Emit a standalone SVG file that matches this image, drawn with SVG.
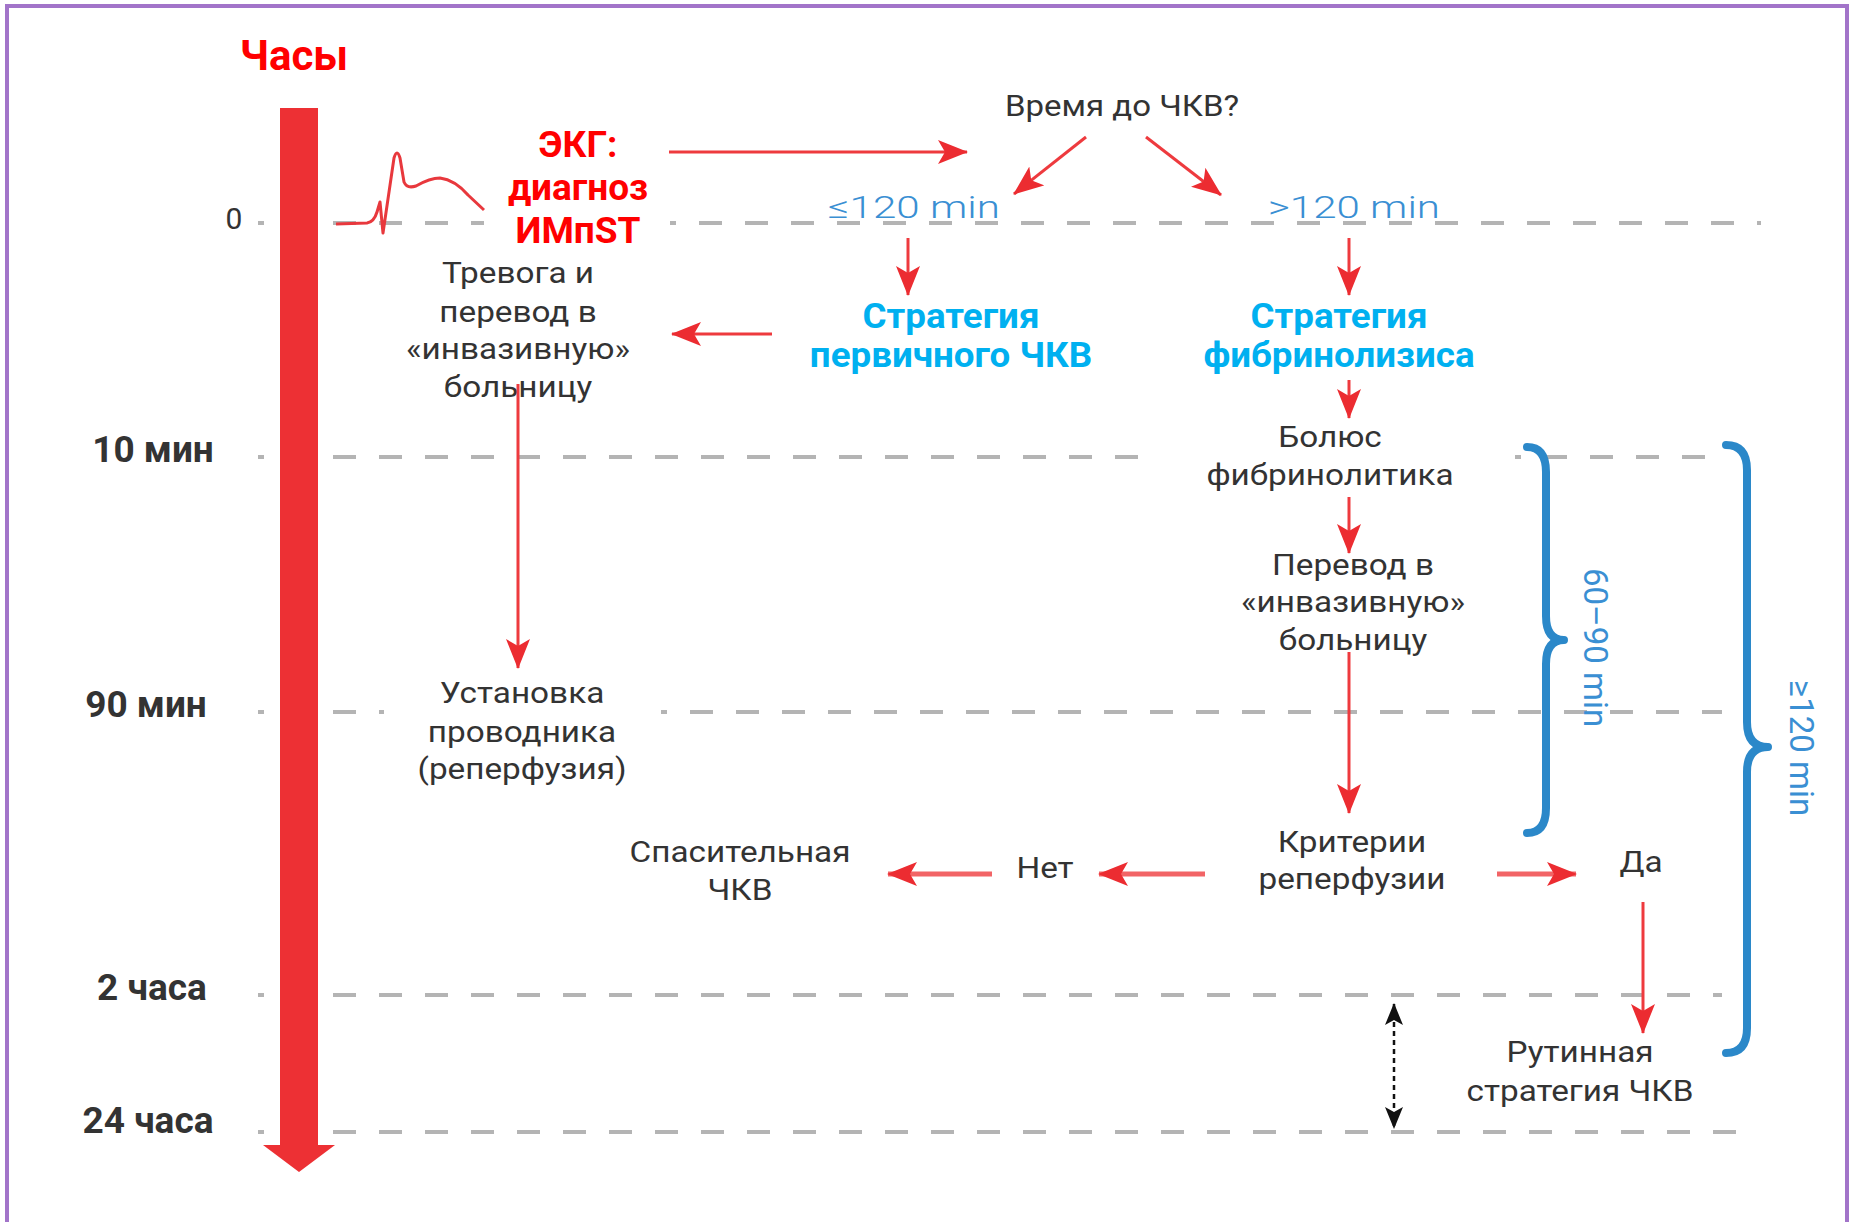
<svg xmlns="http://www.w3.org/2000/svg" width="1853" height="1222" viewBox="0 0 1853 1222">
<style>
.t{font-family:Roboto,"Open Sans","Liberation Sans",sans-serif;fill:#333;font-size:30px;text-anchor:middle}
.lab{font-family:Roboto,"Open Sans","Liberation Sans",sans-serif;fill:#333;font-size:37px;font-weight:bold;text-anchor:middle}
.red{font-family:Roboto,"Open Sans","Liberation Sans",sans-serif;fill:#ff0000;font-weight:bold;text-anchor:middle}
.cy{font-family:Roboto,"Open Sans","Liberation Sans",sans-serif;fill:#00b0f0;font-weight:bold;font-size:35px;text-anchor:middle}
.bl{font-family:Roboto,"Open Sans","Liberation Sans",sans-serif;fill:#3a8fd3;font-size:31px;font-weight:300}
.blr{font-family:Roboto,"Open Sans","Liberation Sans",sans-serif;fill:#3a8fd3;font-size:33px}
.dash{stroke:#b4b4b4;stroke-width:4;stroke-dasharray:23 23;fill:none}
.ar{stroke:#ee3a3e;stroke-width:3;fill:none;marker-end:url(#ah)}
.art{stroke:#f26466;stroke-width:5;fill:none;marker-end:url(#ah)}
.brace{stroke:#2b88c9;stroke-width:8;fill:none;stroke-linecap:round;stroke-linejoin:round}
</style>
<defs>
<marker id="ah" markerUnits="userSpaceOnUse" markerWidth="30" markerHeight="24" viewBox="0 0 30 24" refX="29" refY="12" orient="auto">
<path d="M0,0 L30,12 L0,24 L7,12 z" fill="#ec2c31"/>
</marker>
<marker id="bk" markerUnits="userSpaceOnUse" markerWidth="22" markerHeight="18" viewBox="0 0 22 18" refX="21" refY="9" orient="auto-start-reverse">
<path d="M0,0 L22,9 L0,18 L5,9 z" fill="#111"/>
</marker>
</defs>
<rect width="1853" height="1222" fill="#fff"/>
<rect x="7" y="6" width="1840" height="1250" fill="none" stroke="#a274c9" stroke-width="4"/>

<g id="gridlines">
<path class="dash" d="M258,223 H484 M670,223 H1761" stroke-dashoffset="17"/>
<path class="dash" d="M258,457 H1156 M1515,457 H1722" stroke-dashoffset="17"/>
<path class="dash" d="M258,712 H384 M661,712 H1722" stroke-dashoffset="17"/>
<path class="dash" d="M258,995 H1722" stroke-dashoffset="17"/>
<path class="dash" d="M258,1132 H1757" stroke-dashoffset="17"/>
</g>

<g id="timeline">
<polygon points="280,108 318,108 318,1145 335,1145 299,1172 263,1145 280,1145" fill="#ed3034"/>
<text class="red" x="294" y="70" font-size="42">Часы</text>
<text class="t" x="234" y="229" font-size="33" fill="#444">0</text>
<text class="lab" x="153" y="462">10 мин</text>
<text class="lab" x="146" y="717">90 мин</text>
<text class="lab" x="152" y="1000">2 часа</text>
<text class="lab" x="148" y="1133">24 часа</text>
</g>

<g id="ecg">
<path d="M336,224 L367,223 Q374,222 377,212 L380,202 L383,233 L394,158 Q397,148 400,158 L404,182 Q407,189 416,186 Q430,178 440,178 Q455,180 468,195 L484,210" fill="none" stroke="#e8383d" stroke-width="3" stroke-linejoin="round"/>
</g>

<g id="n-ecg">
<text class="red" font-size="37"><tspan x="578" y="157">ЭКГ:</tspan><tspan x="578" y="200">диагноз</tspan><tspan x="578" y="243">ИМпST</tspan></text>
</g>

<g id="n-time">
<text class="t" transform="translate(1122,116) scale(1.1,1)" font-size="31"><tspan x="0" y="0">Время до ЧКВ?</tspan></text>
</g>

<g id="n-le120">
<text class="bl" x="828" y="218" textLength="172" lengthAdjust="spacingAndGlyphs">≤120 min</text>
</g>
<g id="n-gt120">
<text class="bl" x="1268" y="218" textLength="172" lengthAdjust="spacingAndGlyphs">&gt;120 min</text>
</g>

<g id="n-primary">
<text class="cy" transform="translate(951,328) scale(1.05,1)"><tspan x="0" y="0">Стратегия</tspan><tspan x="0" y="39">первичного ЧКВ</tspan></text>
</g>
<g id="n-fibr">
<text class="cy" transform="translate(1339,328) scale(1.05,1)"><tspan x="0" y="0">Стратегия</tspan><tspan x="0" y="39">фибринолизиса</tspan></text>
</g>

<g id="n-alarm">
<text class="t" transform="translate(518,283) scale(1.11,1)"><tspan x="0" y="0">Тревога и</tspan><tspan x="0" y="39">перевод в</tspan><tspan x="0" y="76">«инвазивную»</tspan><tspan x="0" y="114">больницу</tspan></text>
</g>

<g id="n-wire">
<text class="t" transform="translate(522,703) scale(1.11,1)"><tspan x="0" y="0">Установка</tspan><tspan x="0" y="39">проводника</tspan><tspan x="0" y="76">(реперфузия)</tspan></text>
</g>

<g id="n-bolus">
<text class="t" transform="translate(1330,447) scale(1.11,1)"><tspan x="0" y="0">Болюс</tspan><tspan x="0" y="38">фибринолитика</tspan></text>
</g>

<g id="n-transfer">
<text class="t" transform="translate(1353,575) scale(1.11,1)"><tspan x="0" y="0">Перевод в</tspan><tspan x="0" y="37">«инвазивную»</tspan><tspan x="0" y="75">больницу</tspan></text>
</g>

<g id="n-criteria">
<text class="t" transform="translate(1352,852) scale(1.11,1)"><tspan x="0" y="0">Критерии</tspan><tspan x="0" y="37">реперфузии</tspan></text>
</g>

<g id="n-no">
<text class="t" transform="translate(1045,878) scale(1.11,1)">Нет</text>
</g>

<g id="n-rescue">
<text class="t" transform="translate(740,862) scale(1.11,1)"><tspan x="0" y="0">Спасительная</tspan><tspan x="0" y="38">ЧКВ</tspan></text>
</g>

<g id="n-yes">
<text class="t" transform="translate(1641,872) scale(1.11,1)">Да</text>
</g>

<g id="n-routine">
<text class="t" transform="translate(1580,1062) scale(1.11,1)"><tspan x="0" y="0">Рутинная</tspan><tspan x="0" y="39">стратегия ЧКВ</tspan></text>
</g>

<g id="n-brace-6090">
<path class="brace" d="M1527,447 Q1546,447 1546,472 L1546,616 Q1546,640 1564,640 Q1546,640 1546,664 L1546,808 Q1546,833 1527,833"/>
<text class="blr" transform="translate(1584,568) rotate(90)">60–90 min</text>
</g>

<g id="n-brace-120">
<path class="brace" d="M1726,445 Q1747,445 1747,470 L1747,722 Q1747,747 1768,747 Q1747,747 1747,772 L1747,1028 Q1747,1053 1726,1053"/>
<text class="blr" transform="translate(1790,680) rotate(90)">≥120 min</text>
</g>

<g id="connectors">
<path class="ar" d="M669,152 H967"/>
<path class="ar" d="M1086,137 L1014,194"/>
<path class="ar" d="M1146,137 L1221,195"/>
<path class="ar" d="M908,238 V295"/>
<path class="ar" d="M1349,238 V295"/>
<path class="ar" d="M772,334 H672"/>
<path class="ar" d="M1349,380 V418"/>
<path class="ar" d="M1349,497 V553"/>
<path class="ar" d="M1349,652 V813"/>
<path class="ar" d="M518,384 V668" stroke="#f26466"/>
<path class="art" d="M1205,874 H1099"/>
<path class="art" d="M992,874 H888"/>
<path class="art" d="M1497,874 H1576"/>
<path class="ar" d="M1643,902 V1033" stroke="#f26466"/>
<path d="M1394,1004 V1128" stroke="#111" stroke-width="2.5" stroke-dasharray="5 4" fill="none" marker-start="url(#bk)" marker-end="url(#bk)"/>
</g>
</svg>
